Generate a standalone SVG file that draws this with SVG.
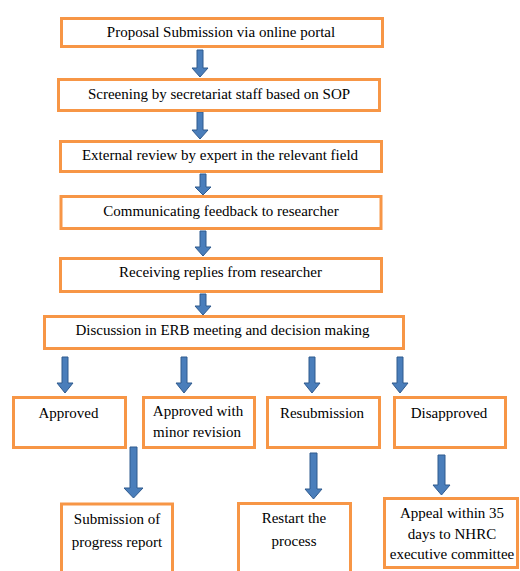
<svg xmlns="http://www.w3.org/2000/svg" width="520" height="571" viewBox="0 0 520 571">
<style>
.box{fill:#fff;stroke:#F79646;stroke-width:3}
.t{font-size:15px;fill:#000;text-anchor:middle}
.arr{fill:#4A7EBB;stroke:#2F5A8E;stroke-width:1}
</style>
<rect width="520" height="571" fill="#fff"/>
<g id="connectors">
<path class="arr" d="M197 50H203V68H208L200 77L192 68H197Z"/>
<path class="arr" d="M197 112H203V130H208L200 139L192 130H197Z"/>
<path class="arr" d="M200 174H206V187H211L203 195L195 187H200Z"/>
<path class="arr" d="M200 231H206V247H211L203 256L195 247H200Z"/>
<path class="arr" d="M200 294H206V306H211L203 315L195 306H200Z"/>
<path class="arr" d="M62 357H68V383H73L65 393L57 383H62Z"/>
<path class="arr" d="M181 357H187V383H192L184 393L176 383H181Z"/>
<path class="arr" d="M309 357H315V383H320L312 393L304 383H309Z"/>
<path class="arr" d="M397 357H403V383H408L400 393L392 383H397Z"/>
<path class="arr" d="M130 447H137V488H143L133.5 498L124 488H130Z"/>
<path class="arr" d="M310 453H317V489H322L313.5 499L305 489H310Z"/>
<path class="arr" d="M438 455H445V485H450L441.5 495L433 485H438Z"/>
</g>
<g font-family="Liberation Serif, Times New Roman, serif">
<g id="n1"><rect class="box" x="61.5" y="18.5" width="321" height="28"/><text class="t" x="221" y="37">Proposal Submission via online portal</text></g>
<g id="n2"><rect class="box" x="58.5" y="79.5" width="321" height="31"/><text class="t" x="219" y="99">Screening by secretariat staff based on SOP</text></g>
<g id="n3"><rect class="box" x="60.5" y="141.5" width="321" height="30"/><text class="t" x="220" y="160">External review by expert in the relevant field</text></g>
<g id="n4"><rect class="box" x="61" y="196.5" width="320" height="32"/><text class="t" x="221" y="216">Communicating feedback to researcher</text></g>
<g id="n5"><rect class="box" x="60.5" y="258.5" width="321" height="33"/><text class="t" x="220.5" y="277">Receiving replies from researcher</text></g>
<g id="n6"><rect class="box" x="44.5" y="316.5" width="359" height="32"/><text class="t" x="222.5" y="335">Discussion in ERB meeting and decision making</text></g>
<g id="n7"><rect class="box" x="13.5" y="397.5" width="112" height="50"/><text class="t" x="68.5" y="418">Approved</text></g>
<g id="n8"><rect class="box" x="143.5" y="397.5" width="111" height="50"/><text class="t" x="198" y="416">Approved with</text><text class="t" x="197" y="437">minor revision</text></g>
<g id="n9"><rect class="box" x="267.5" y="397.5" width="112" height="50"/><text class="t" x="322" y="418">Resubmission</text></g>
<g id="n10"><rect class="box" x="394.5" y="397.5" width="111" height="50"/><text class="t" x="449" y="418">Disapproved</text></g>
<g id="n11"><rect class="box" x="61.5" y="504" width="111" height="80"/><text class="t" x="117" y="524">Submission of</text><text class="t" x="117" y="547">progress report</text></g>
<g id="n12"><rect class="box" x="238.5" y="503.5" width="112" height="80"/><text class="t" x="294" y="523">Restart the</text><text class="t" x="294" y="546">process</text></g>
<g id="n13"><rect class="box" x="384.5" y="498.5" width="133" height="69"/><text class="t" x="452" y="518">Appeal within 35</text><text class="t" x="452" y="559" dy="-20">days to NHRC</text><text class="t" x="452" y="559">executive committee</text></g>
</g>
</svg>
